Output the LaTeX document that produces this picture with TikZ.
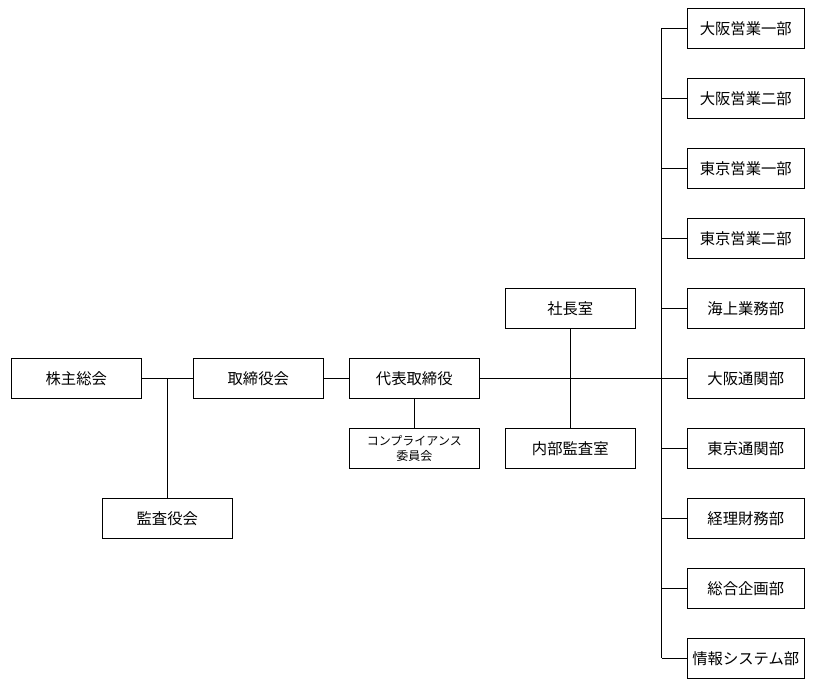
\documentclass[tikz,border=0pt]{standalone}
\usepackage{fontspec}
\setmainfont{Noto Sans CJK JP}
\begin{document}
\begin{tikzpicture}[x=0.75pt,y=-0.75pt,line width=0.75pt,
  box/.style={draw,rectangle,inner sep=0pt,minimum width=97.5pt,minimum height=30pt,font=\fontsize{11.5pt}{13pt}\selectfont,align=center},
  dept/.style={box,minimum width=87.75pt},
  small/.style={box,font=\fontsize{9pt}{11pt}\selectfont}]
\useasboundingbox (0,0) rectangle (814,691);
\node[box] (kabu) at (76.3,378.3) {株主総会};
\node[box] (tori) at (258.3,378.3) {取締役会};
\node[box] (daihyo) at (414.3,378.3) {代表取締役};
\node[box] (kansa) at (167.3,518.3) {監査役会};
\node[small] (comp) at (414.3,448.3) {コンプライアンス\\委員会};
\node[box] (shacho) at (570.3,308.3) {社長室};
\node[box] (naibu) at (570.3,448.3) {内部監査室};
\node[dept] (d1) at (745.8,28.3) {大阪営業一部};
\node[dept] (d2) at (745.8,98.3) {大阪営業二部};
\node[dept] (d3) at (745.8,168.3) {東京営業一部};
\node[dept] (d4) at (745.8,238.3) {東京営業二部};
\node[dept] (d5) at (745.8,308.3) {海上業務部};
\node[dept] (d6) at (745.8,378.3) {大阪通関部};
\node[dept] (d7) at (745.8,448.3) {東京通関部};
\node[dept] (d8) at (745.8,518.3) {経理財務部};
\node[dept] (d9) at (745.8,588.3) {総合企画部};
\node[dept] (d10) at (745.8,658.3) {情報システム部};
\coordinate (tx) at (661.7,0);
\coordinate (ttop) at (tx |- d1.west);
\coordinate (tbot) at (tx |- d10.west);
\draw (kabu.east) -- (tori.west);
\draw (kansa.north) -- (kansa.north |- kabu.east);
\draw (tori.east) -- (daihyo.west);
\draw (daihyo.south) -- (comp.north);
\draw (daihyo.east) -- (d6.west);
\draw (shacho.south) -- (naibu.north);
\draw (ttop) -- (tbot);
\foreach \i in {1,...,10} {\draw (tx |- d\i.west) -- (d\i.west);}
\end{tikzpicture}
\end{document}
